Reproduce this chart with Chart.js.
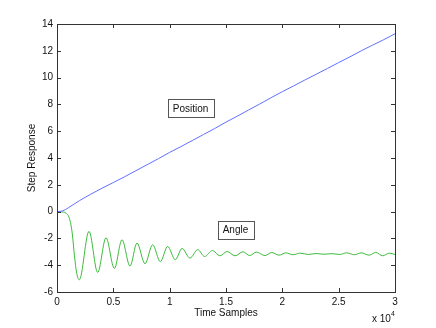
<!DOCTYPE html>
<html>
<head>
<meta charset="utf-8">
<script src="https://cdn.jsdelivr.net/npm/chart.js@4/dist/chart.umd.min.js"></script>
<style>
  body { margin: 0; background: #fff; }
  #wrap { width: 436px; height: 328px; }
</style>
</head>
<body>
<div id="wrap"><canvas id="chart" width="436" height="328"></canvas></div>
<script>
// time samples and step responses
const positionX = [0, 500, 1000, 1500, 2000, 3000, 4000, 5000, 6000, 7000, 8000, 9000, 10000,
    11000, 12000, 13000, 14000, 15000, 16000, 17000, 18000, 19000, 20000, 21000, 22000, 23000, 24000, 25000,
    26000, 27000, 28000, 29000, 30000];
const positionY = [0, 0.05, 0.28, 0.55, 0.82, 1.3, 1.75, 2.17, 2.6, 3.05, 3.5, 3.95, 4.42,
    4.85, 5.3, 5.75, 6.2, 6.68, 7.12, 7.58, 8.03, 8.5, 8.95, 9.38, 9.82, 10.25, 10.68, 11.12,
    11.55, 12.0, 12.42, 12.83, 13.27];

const angleX = [0, 400, 800, 1100, 1350, 1550, 1750, 1980, 2840, 3610, 4350, 5090, 5770, 6480, 7100, 7810,
    8490, 9170, 9820, 10500, 11100, 11800, 12500, 13100, 13800, 14450, 15100, 15800, 16500, 17100, 17700,
    18460, 19060, 19700, 20300, 20950, 21600, 22300, 23000, 23700, 24400, 25100, 25700, 26400, 27000,
    27700, 28300, 28900, 29500, 30000];
const angleY = [0, -0.02, -0.12, -0.5, -1.6, -3.3, -4.6, -5.09, -1.47, -4.54, -1.95, -4.24, -2.1, -4.07, -2.35, -3.89,
    -2.47, -3.74, -2.6, -3.59, -2.75, -3.47, -2.84, -3.35, -2.9, -3.3, -2.98, -3.3, -3.0, -3.28, -3.02,
    -3.28, -3.05, -3.25, -3.08, -3.22, -3.1, -3.2, -3.13, -3.18, -3.14, -3.2, -3.08, -3.22, -3.08,
    -3.25, -3.05, -3.3, -3.1, -3.2];

const xTicks = [0, 5000, 10000, 15000, 20000, 25000, 30000];
const yTicks = [-6, -4, -2, 0, 2, 4, 6, 8, 10, 12, 14];

const labels = [
    { text: 'Position', x: 11850, y: 7.73 },
    { text: 'Angle', x: 15840, y: -1.34 }
];

const FONT = '"Liberation Sans", Arial, sans-serif';

const toPoints = (xs, ys) => xs.map((x, i) => ({ x: x, y: ys[i] }));

const framePlugin = {
    id: 'frame',
    afterDraw(chart) {
        const ctx = chart.ctx;
        const a = chart.chartArea;
        const xs = chart.scales.x;
        const ys = chart.scales.y;
        ctx.save();
        ctx.strokeStyle = '#333';
        ctx.lineWidth = 1;
        ctx.strokeRect(Math.round(a.left) + 0.5, Math.round(a.top) + 0.5,
            Math.round(a.right - a.left), Math.round(a.bottom - a.top));
        ctx.beginPath();
        xTicks.forEach(t => {
            const px = Math.round(xs.getPixelForValue(t)) + 0.5;
            ctx.moveTo(px, a.bottom); ctx.lineTo(px, a.bottom - 4);
            ctx.moveTo(px, a.top); ctx.lineTo(px, a.top + 4);
        });
        yTicks.forEach(t => {
            const py = Math.round(ys.getPixelForValue(t)) + 0.5;
            ctx.moveTo(a.left, py); ctx.lineTo(a.left + 4, py);
            ctx.moveTo(a.right, py); ctx.lineTo(a.right - 4, py);
        });
        ctx.stroke();

        // text boxes
        ctx.font = '10px ' + FONT;
        ctx.textAlign = 'center';
        ctx.textBaseline = 'middle';
        labels.forEach(l => {
            const cx = xs.getPixelForValue(l.x);
            const cy = ys.getPixelForValue(l.y);
            const w = ctx.measureText(l.text).width + 10;
            const h = 18;
            ctx.fillStyle = '#fff';
            ctx.fillRect(cx - w / 2, cy - h / 2, w, h);
            ctx.strokeStyle = '#555';
            ctx.strokeRect(Math.round(cx - w / 2) + 0.5, Math.round(cy - h / 2) + 0.5, Math.round(w), h);
            ctx.fillStyle = '#111';
            ctx.fillText(l.text, cx, cy + 1);
        });

        // axis titles
        ctx.fillStyle = '#111';
        ctx.fillText('Time Samples', (a.left + a.right) / 2, 313);
        ctx.save();
        ctx.translate(32, (a.top + a.bottom) / 2);
        ctx.rotate(-Math.PI / 2);
        ctx.fillText('Step Response', 0, 0);
        ctx.restore();
        ctx.textAlign = 'left';
        ctx.fillText('x 10', 372, 319);
        ctx.font = '7px ' + FONT;
        ctx.fillText('4', 391, 314);
        ctx.restore();
    }
};

new Chart(document.getElementById('chart').getContext('2d'), {
    type: 'line',
    data: {
        datasets: [
            { label: 'Position', data: toPoints(positionX, positionY), borderColor: '#5f70ff',
              borderWidth: 1, pointRadius: 0, cubicInterpolationMode: 'monotone', fill: false },
            { label: 'Angle', data: toPoints(angleX, angleY), borderColor: '#3cbb3c',
              borderWidth: 1, pointRadius: 0, cubicInterpolationMode: 'monotone', fill: false }
        ]
    },
    options: {
        responsive: false,
        animation: false,
        devicePixelRatio: 1,
        layout: { padding: { top: 24, right: 41, left: 0, bottom: 0 } },
        plugins: { legend: { display: false }, tooltip: { enabled: false } },
        scales: {
            x: {
                type: 'linear', min: 0, max: 30000,
                afterFit: s => { s.height = 36; },
                afterBuildTicks: s => { s.ticks = xTicks.map(v => ({ value: v })); },
                grid: { display: false, drawTicks: false },
                border: { display: false },
                ticks: { padding: 4, color: '#111', font: { family: FONT, size: 10 },
                         maxRotation: 0, callback: v => String(v / 1e4) }
            },
            y: {
                min: -6, max: 14,
                afterFit: s => { s.width = 57; },
                afterBuildTicks: s => { s.ticks = yTicks.map(v => ({ value: v })); },
                grid: { display: false, drawTicks: false },
                border: { display: false },
                ticks: { padding: 4, color: '#111', font: { family: FONT, size: 10 } }
            }
        }
    },
    plugins: [framePlugin]
});
</script>
</body>
</html>
